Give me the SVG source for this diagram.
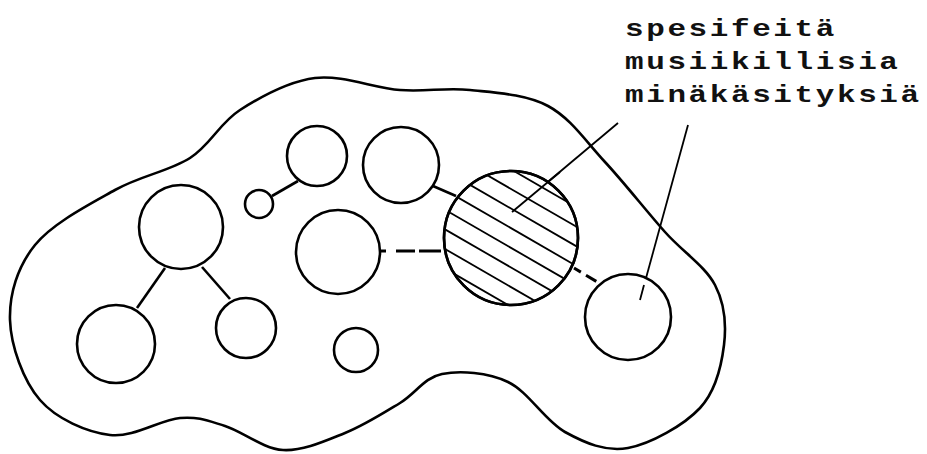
<svg xmlns="http://www.w3.org/2000/svg" width="927" height="454" viewBox="0 0 927 454">
<style>
.o{fill:none;stroke:#000;stroke-width:2.6}
.n{fill:#fff;stroke:#000;stroke-width:2.6}
.c{fill:none;stroke:#000;stroke-width:2.6}
.d{fill:none;stroke:#000;stroke-width:3}
.h{fill:none;stroke:#000;stroke-width:1.8}
.l{fill:none;stroke:#000;stroke-width:1.8}
.t{font-family:"Liberation Mono","Courier New",monospace;font-size:31px;font-weight:bold;letter-spacing:2.6px;fill:#111}
</style>
<defs>
<clipPath id="hc"><circle cx="511" cy="238" r="66"/></clipPath>
</defs>
<rect width="927" height="454" fill="#fff"/>
<g id="outline">
<path class="o" d="M10,320 C9.2,294.2 17.5,266.7 35,245 C52.5,223.3 89.2,204.5 115,190 C140.8,175.5 169.2,171.3 190,158 C210.8,144.7 219.2,123.3 240,110 C260.8,96.7 288.3,81.3 315,78 C341.7,74.7 374.2,88 400,90 C425.8,92 445.3,87.3 470,90 C494.7,92.7 525.5,94 548,106 C570.5,118 585.5,141 605,162 C624.5,183 646.7,211.5 665,232 C683.3,252.5 705.2,266.2 715,285 C724.8,303.8 726.5,324.5 724,345 C721.5,365.5 716,390.8 700,408 C684,425.2 650.5,444 628,448 C605.5,452 585,443 565,432 C545,421 528.5,391.7 508,382 C487.5,372.3 460,370.5 442,374 C424,377.5 416.2,393.2 400,403 C383.8,412.8 364.5,425.2 345,433 C325.5,440.8 303,451.2 283,450 C263,448.8 242.2,431.3 225,426 C207.8,420.7 199.2,416.5 180,418 C160.8,419.5 133.3,438 110,435 C86.7,432 56.7,419.2 40,400 C23.3,380.8 10.8,345.8 10,320 Z"/>
</g>
<g id="connectors">
<line class="c" x1="165" y1="268" x2="137" y2="308"/>
<line class="c" x1="202" y1="267" x2="230" y2="299"/>
<line class="c" x1="272" y1="196" x2="298" y2="181"/>
<line class="c" x1="433" y1="186" x2="456" y2="196"/>
<line class="d" x1="381" y1="251" x2="445" y2="251" stroke-dasharray="5 10 19 4 22"/>
<line class="d" x1="574" y1="268" x2="599" y2="283" stroke-dasharray="8 6 12"/>
<line class="l" x1="618" y1="123" x2="512" y2="212"/>
<line class="l" x1="688" y1="125" x2="640" y2="300"/>
</g>
<g id="n1"><circle class="n" cx="181" cy="227" r="42"/></g>
<g id="n2"><circle class="n" cx="116" cy="344" r="39"/></g>
<g id="n3"><circle class="n" cx="246" cy="328" r="30"/></g>
<g id="n4"><circle class="n" cx="259" cy="204" r="14"/></g>
<g id="n5"><circle class="n" cx="317" cy="156" r="30"/></g>
<g id="n6"><circle class="n" cx="401" cy="165" r="38"/></g>
<g id="n7"><circle class="n" cx="338" cy="252" r="42"/></g>
<g id="n8"><circle class="n" cx="356" cy="350" r="22"/></g>
<g id="n9">
<circle class="n" cx="511" cy="238" r="67"/>
<g clip-path="url(#hc)">
<line class="h" x1="471.5" y1="146.5" x2="610" y2="226.5"/>
<line class="h" x1="463" y1="161.2" x2="601.5" y2="241.2"/>
<line class="h" x1="454.5" y1="175.9" x2="593" y2="255.9"/>
<line class="h" x1="446" y1="190.6" x2="584.5" y2="270.6"/>
<line class="h" x1="437.5" y1="205.4" x2="576" y2="285.4"/>
<line class="h" x1="429" y1="220.1" x2="567.5" y2="300.1"/>
<line class="h" x1="420.5" y1="234.8" x2="559" y2="314.8"/>
<line class="h" x1="412" y1="249.5" x2="550.5" y2="329.5"/>
</g>
<circle class="c" cx="511" cy="238" r="67"/>
<line class="l" x1="560" y1="172" x2="512" y2="212"/>
</g>
<g id="n10"><circle class="n" cx="628" cy="317" r="43"/><line class="l" x1="644" y1="285" x2="640" y2="300"/></g>
<g id="label" transform="scale(1,0.75)">
<text class="t" x="625" y="48">spesifeitä</text>
<text class="t" x="625" y="92">musiikillisia</text>
<text class="t" x="625" y="136">minäkäsityksiä</text>
</g>
</svg>
